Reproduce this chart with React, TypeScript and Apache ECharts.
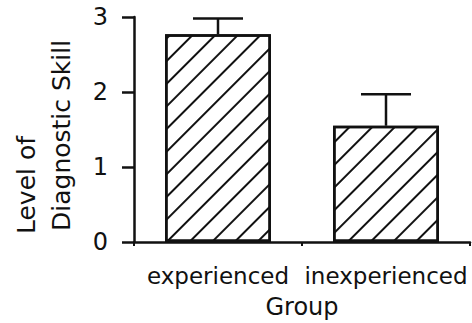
import React, { useEffect, useRef } from "react";
import * as echarts from "echarts";

const categories = ["experienced", "inexperienced"];
const means = [2.77, 1.55];
const upperErrors = [2.98, 1.97];
const yTicks = [0, 1, 2, 3];
const yTitleLines = ["Level of", "Diagnostic Skill"];
const xTitle = "Group";

const INK = "#111";
const FONT = "DejaVu Sans";

export default function App() {
  const ref = useRef<HTMLDivElement>(null);
  useEffect(() => {
    if (!ref.current) return;
    const chart = echarts.init(ref.current, null, { renderer: "svg" });
    chart.setOption({
      animation: false,
      backgroundColor: "#fff",
      grid: { left: 134, right: 2, top: 17, bottom: 81, outerBoundsMode: "none", containLabel: false },
      xAxis: {
        type: "category",
        data: categories,
        axisLine: { lineStyle: { color: INK, width: 2.5 } },
        axisTick: { show: true, length: 4, lineStyle: { color: INK, width: 2 } },
        axisLabel: { color: INK, fontFamily: FONT, fontSize: 23, margin: 22, interval: 0, hideOverlap: false },
        name: xTitle,
        nameLocation: "middle",
        nameGap: 52,
        nameTextStyle: { color: INK, fontFamily: FONT, fontSize: 24, lineHeight: 26 },
      },
      yAxis: {
        type: "value",
        min: yTicks[0],
        max: yTicks[yTicks.length - 1],
        interval: 1,
        splitLine: { show: false },
        axisLine: { show: true, lineStyle: { color: INK, width: 2.5 } },
        axisTick: { show: true, length: 12, lineStyle: { color: INK, width: 2.5 } },
        axisLabel: { color: INK, fontFamily: FONT, fontSize: 24, margin: 26 },
      },
      graphic: [
        {
          type: "text",
          x: 26,
          y: 234,
          rotation: Math.PI / 2,
          style: { text: yTitleLines[0], fill: INK, font: `25px "${FONT}"`, align: "left", verticalAlign: "middle" },
        },
        {
          type: "text",
          x: 61,
          y: 231,
          rotation: Math.PI / 2,
          style: { text: yTitleLines[1], fill: INK, font: `25px "${FONT}"`, align: "left", verticalAlign: "middle" },
        },
      ],
      series: [
        {
          type: "bar",
          data: means,
          barWidth: "63%",
          itemStyle: {
            color: "#fff",
            borderColor: INK,
            borderWidth: 2.5,
            decal: {
              symbol: "rect",
              symbolSize: 1,
              color: INK,
              backgroundColor: "#fff",
              dashArrayX: [1, 0],
              dashArrayY: [2, 13.5],
              rotation: -Math.PI / 4,
            },
          },
        },
        {
          type: "custom",
          data: means.map((m, i) => [i, m, upperErrors[i]]),
          z: 3,
          renderItem: (params: any, api: any) => {
            const base = api.coord([api.value(0), api.value(1)]);
            const top = api.coord([api.value(0), api.value(2)]);
            const half = 25;
            const style = { stroke: INK, lineWidth: 2.5 };
            return {
              type: "group",
              children: [
                { type: "line", shape: { x1: base[0], y1: base[1], x2: top[0], y2: top[1] }, style },
                { type: "line", shape: { x1: top[0] - half, y1: top[1], x2: top[0] + half, y2: top[1] }, style },
              ],
            };
          },
        },
      ],
    });
    return () => chart.dispose();
  }, []);
  return <div ref={ref} style={{ width: 472, height: 323, position: "absolute", left: 0, top: 0 }} />;
}
